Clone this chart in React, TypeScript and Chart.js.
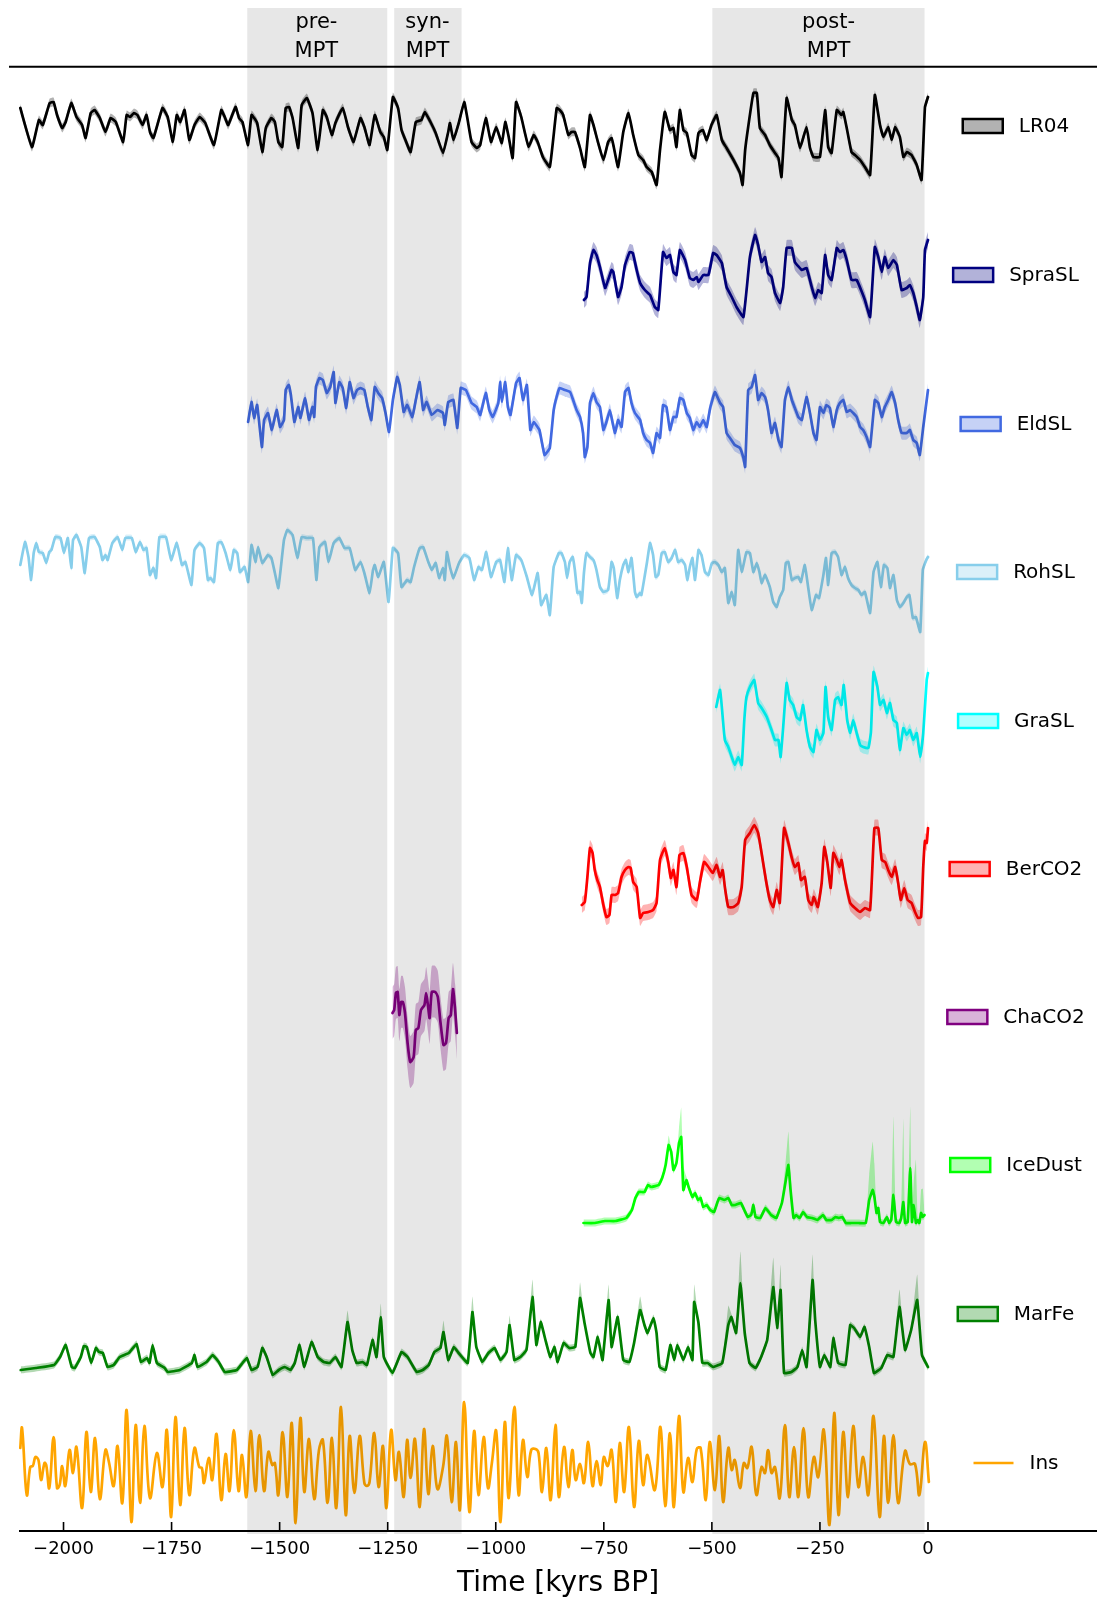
import React, { useEffect, useRef } from "react";
import { Chart, registerables } from "chart.js";

Chart.register(...registerables);

// ---------------- data: [time (kyr), normalized anomaly] ----------------
const LR04: number[][] = [
  [-2100,18],[-2073,-21],[-2057,6],[-2048,1],[-2032,23],[-2023,24],[-2015,11],[-2003,-2],[-1995,4],[-1982,23],
  [-1970,9],[-1957,1],[-1949,-12],[-1937,13],[-1928,16],[-1916,8],[-1903,-6],[-1891,8],[-1879,4],[-1862,-16],
  [-1854,11],[-1846,9],[-1837,13],[-1829,11],[-1817,1],[-1808,11],[-1800,-6],[-1792,-12],[-1771,18],[-1759,9],
  [-1747,-16],[-1738,11],[-1730,4],[-1720,16],[-1709,-14],[-1697,1],[-1685,9],[-1672,3],[-1652,-19],[-1635,16],
  [-1627,9],[-1619,1],[-1602,19],[-1594,8],[-1586,4],[-1573,-19],[-1565,11],[-1552,3],[-1540,-26],[-1532,-2],
  [-1519,8],[-1511,4],[-1503,-16],[-1494,-21],[-1486,18],[-1478,19],[-1470,8],[-1457,-22],[-1449,21],[-1437,28],
  [-1424,13],[-1412,-24],[-1400,16],[-1391,9],[-1379,-9],[-1371,3],[-1354,18],[-1342,-1],[-1329,-16],[-1313,8],
  [-1304,-1],[-1292,-19],[-1280,11],[-1267,-6],[-1259,-11],[-1251,-24],[-1238,29],[-1226,18],[-1218,-4],[-1209,-14],
  [-1197,-26],[-1185,4],[-1172,6],[-1164,14],[-1151,4],[-1139,-7],[-1122,-27],[-1110,-6],[-1106,3],[-1098,-14],
  [-1085,4],[-1073,24],[-1065,6],[-1056,-16],[-1044,-22],[-1036,-19],[-1023,8],[-1011,-16],[-999,-1],[-986,-17],
  [-978,4],[-970,-11],[-961,-32],[-953,24],[-941,9],[-933,-6],[-924,-21],[-912,-9],[-903,-16],[-891,-31],
  [-875,-41],[-859,18],[-852,16],[-844,11],[-832,-9],[-825,-6],[-817,-6],[-805,-22],[-794,-41],[-782,11],
  [-774,1],[-763,-17],[-751,-34],[-740,-16],[-732,-12],[-727,-21],[-717,-41],[-705,-6],[-693,13],[-682,-9],
  [-670,-29],[-659,-34],[-651,-41],[-639,-46],[-628,-59],[-620,-24],[-609,14],[-597,-4],[-589,-2],[-582,-21],
  [-574,16],[-566,-4],[-558,-7],[-547,-29],[-539,-32],[-531,-7],[-521,-4],[-512,-14],[-501,1],[-489,11],
  [-477,-14],[-466,-22],[-450,-34],[-435,-47],[-429,-59],[-423,-24],[-416,-1],[-404,33],[-396,33],[-389,-2],
  [-377,-9],[-366,-19],[-354,-27],[-346,-32],[-339,-51],[-327,28],[-315,6],[-308,1],[-296,-22],[-281,-1],
  [-273,-22],[-265,-31],[-250,-31],[-238,16],[-231,-21],[-223,-27],[-211,16],[-200,11],[-196,14],[-188,-2],
  [-177,-26],[-169,-29],[-157,-34],[-146,-41],[-134,-49],[-123,31],[-111,1],[-103,-11],[-92,-1],[-84,-14],
  [-76,-1],[-65,-11],[-57,-31],[-49,-26],[-38,-29],[-26,-39],[-15,-54],[-7,19],[0,29],
];

const SPRA_SL: number[][] = [
  [-796,-25],[-790,-22],[-782,12],[-774,25],[-767,20],[-759,8],[-747,-13],[-740,-5],[-732,5],[-728,3],
  [-717,-22],[-709,-12],[-701,10],[-690,23],[-683,22],[-674,5],[-666,-8],[-655,-15],[-643,-20],[-632,-32],
  [-624,-35],[-613,23],[-605,17],[-597,20],[-589,3],[-582,0],[-574,25],[-562,15],[-551,-3],[-543,-5],
  [-535,-2],[-531,-7],[-520,0],[-508,0],[-497,22],[-489,20],[-477,12],[-466,-12],[-454,-22],[-443,-32],
  [-427,-42],[-412,18],[-400,40],[-393,30],[-385,13],[-377,18],[-370,2],[-362,-2],[-354,-18],[-342,-28],
  [-335,-12],[-327,27],[-315,27],[-308,13],[-292,5],[-281,7],[-269,-12],[-261,-23],[-254,-15],[-246,-18],
  [-238,20],[-231,0],[-223,-5],[-211,27],[-204,23],[-196,25],[-188,15],[-177,-5],[-165,-5],[-153,-17],
  [-146,-25],[-134,-42],[-123,28],[-115,18],[-107,3],[-100,18],[-92,7],[-80,15],[-72,10],[-61,-15],
  [-49,-13],[-42,-10],[-34,-18],[-26,-32],[-19,-45],[-11,-22],[-7,25],[0,35],
];

const ELD_SL: number[][] = [
  [-1573,2],[-1565,22],[-1559,6],[-1552,19],[-1541,-23],[-1536,4],[-1527,11],[-1518,-6],[-1507,14],[-1499,-3],
  [-1490,4],[-1486,34],[-1479,39],[-1474,29],[-1466,2],[-1457,17],[-1452,6],[-1441,26],[-1432,4],[-1424,17],
  [-1420,7],[-1416,37],[-1408,46],[-1400,44],[-1391,31],[-1383,37],[-1375,52],[-1371,21],[-1362,42],[-1354,36],
  [-1346,16],[-1338,42],[-1329,26],[-1321,34],[-1313,36],[-1304,34],[-1296,17],[-1288,4],[-1280,37],[-1272,31],
  [-1263,26],[-1255,11],[-1247,-8],[-1238,24],[-1228,47],[-1222,39],[-1213,12],[-1205,19],[-1193,7],[-1185,24],
  [-1176,42],[-1168,14],[-1160,22],[-1148,9],[-1135,14],[-1122,11],[-1118,-1],[-1110,22],[-1098,24],[-1089,-4],
  [-1081,36],[-1069,34],[-1056,21],[-1044,17],[-1036,9],[-1023,31],[-1015,14],[-1007,7],[-994,21],[-990,42],
  [-986,22],[-978,42],[-972,17],[-966,9],[-953,41],[-945,46],[-937,24],[-928,39],[-920,-6],[-912,2],
  [-899,-6],[-887,-31],[-875,-24],[-866,14],[-858,29],[-852,36],[-840,34],[-828,32],[-821,24],[-813,14],
  [-805,7],[-798,-9],[-794,-33],[-788,-23],[-782,21],[-774,31],[-767,22],[-759,17],[-751,-6],[-744,2],
  [-736,14],[-730,2],[-724,-9],[-717,4],[-709,-3],[-701,32],[-693,36],[-686,21],[-678,11],[-666,4],
  [-659,-9],[-651,-16],[-643,-19],[-636,-29],[-628,-9],[-620,-14],[-613,19],[-605,17],[-597,-6],[-589,7],
  [-582,7],[-574,26],[-566,24],[-558,11],[-551,6],[-543,-6],[-535,2],[-528,-3],[-520,4],[-512,-3],
  [-504,16],[-493,32],[-481,21],[-474,17],[-466,-9],[-458,-14],[-447,-21],[-435,-24],[-427,-34],[-423,-43],
  [-416,34],[-408,37],[-400,49],[-393,24],[-385,31],[-377,27],[-370,14],[-362,-9],[-354,1],[-346,-16],
  [-339,-23],[-331,24],[-323,37],[-315,24],[-308,16],[-300,7],[-292,4],[-281,27],[-273,11],[-265,-9],
  [-258,-16],[-250,17],[-242,11],[-235,19],[-227,16],[-219,-3],[-211,14],[-204,21],[-196,24],[-188,12],
  [-180,14],[-173,11],[-165,7],[-157,-3],[-150,-6],[-142,-13],[-134,-23],[-123,24],[-115,21],[-107,7],
  [-100,17],[-92,24],[-84,32],[-76,21],[-69,4],[-61,-9],[-49,-9],[-42,-6],[-34,-16],[-26,-19],
  [-19,-31],[-11,-3],[0,34],
];

const ROH_SL: number[][] = [
  [-2100,7],[-2089,30],[-2081,15],[-2075,-8],[-2069,19],[-2063,29],[-2057,20],[-2048,19],[-2040,9],[-2033,20],
  [-2028,22],[-2019,35],[-2007,34],[-1999,19],[-1990,34],[-1982,4],[-1978,32],[-1970,37],[-1959,25],[-1951,-1],
  [-1941,34],[-1928,35],[-1916,25],[-1910,12],[-1903,17],[-1898,12],[-1887,29],[-1875,35],[-1864,22],[-1857,34],
  [-1842,34],[-1833,20],[-1823,30],[-1815,22],[-1808,24],[-1800,-3],[-1792,4],[-1786,-6],[-1778,35],[-1763,35],
  [-1751,12],[-1738,29],[-1726,7],[-1718,10],[-1704,-13],[-1697,22],[-1685,29],[-1675,24],[-1666,-8],[-1660,-6],
  [-1652,-10],[-1643,29],[-1635,30],[-1625,19],[-1614,2],[-1606,22],[-1598,19],[-1592,0],[-1581,5],[-1573,-10],
  [-1565,27],[-1556,10],[-1550,25],[-1540,9],[-1527,17],[-1519,14],[-1511,-1],[-1503,-16],[-1490,32],[-1482,42],
  [-1470,37],[-1459,14],[-1449,35],[-1437,34],[-1423,34],[-1415,-8],[-1408,25],[-1395,30],[-1387,10],[-1375,29],
  [-1362,34],[-1350,24],[-1338,24],[-1325,2],[-1313,10],[-1304,-1],[-1292,-21],[-1284,2],[-1280,7],[-1272,-5],
  [-1259,10],[-1248,-30],[-1238,24],[-1226,19],[-1218,-15],[-1205,-8],[-1197,-10],[-1189,5],[-1176,24],[-1168,25],
  [-1156,10],[-1148,2],[-1139,9],[-1131,-6],[-1122,4],[-1118,-8],[-1113,20],[-1106,5],[-1098,-6],[-1085,9],
  [-1073,17],[-1061,14],[-1050,-8],[-1040,5],[-1032,2],[-1022,20],[-1011,-5],[-999,10],[-990,12],[-980,-10],
  [-972,24],[-963,-8],[-953,17],[-941,12],[-928,-5],[-916,-23],[-903,-1],[-895,-33],[-883,-23],[-875,-43],
  [-866,5],[-854,19],[-848,19],[-840,10],[-835,-6],[-829,10],[-822,15],[-817,2],[-811,-21],[-805,-20],
  [-801,-31],[-796,-1],[-790,19],[-782,15],[-774,12],[-767,2],[-759,-15],[-751,-20],[-740,-18],[-732,10],
  [-727,4],[-719,-26],[-713,-8],[-705,7],[-699,12],[-693,0],[-686,14],[-678,-20],[-674,-25],[-666,-21],
  [-663,-23],[-655,-3],[-650,10],[-643,29],[-636,17],[-630,-5],[-624,-3],[-616,19],[-609,20],[-601,10],
  [-593,14],[-585,22],[-578,10],[-570,12],[-562,7],[-557,-8],[-551,5],[-545,14],[-539,-8],[-531,22],
  [-524,17],[-516,0],[-508,-3],[-500,9],[-493,10],[-485,7],[-477,0],[-470,4],[-462,-31],[-454,-20],
  [-447,-33],[-439,22],[-431,0],[-420,20],[-412,19],[-404,0],[-396,9],[-390,0],[-385,-11],[-377,-3],
  [-366,-15],[-358,-30],[-350,-35],[-343,-25],[-335,-18],[-329,9],[-323,10],[-315,-8],[-308,-6],[-300,-5],
  [-294,-10],[-285,7],[-277,-16],[-269,-38],[-259,-23],[-252,-26],[-242,-3],[-236,14],[-231,-13],[-223,19],
  [-215,20],[-208,15],[-200,-3],[-192,5],[-185,-6],[-177,-13],[-169,-16],[-161,-18],[-154,-23],[-146,-20],
  [-134,-41],[-126,0],[-117,10],[-109,-15],[-102,7],[-94,4],[-88,-16],[-80,-3],[-72,-28],[-65,-35],
  [-57,-31],[-49,-25],[-43,-23],[-35,-46],[-28,-45],[-18,-60],[-12,2],[-4,12],[0,15],
];

const GRA_SL: number[][] = [
  [-490,14],[-481,31],[-475,4],[-470,-19],[-462,-26],[-454,-36],[-447,-44],[-439,-36],[-431,-44],[-425,1],
  [-420,24],[-412,34],[-402,41],[-393,18],[-385,13],[-373,4],[-362,-9],[-354,-19],[-346,-19],[-341,-36],
  [-335,-6],[-327,38],[-320,21],[-312,16],[-304,4],[-296,1],[-289,16],[-281,-9],[-273,-26],[-265,-31],
  [-258,-9],[-250,-19],[-242,-12],[-237,34],[-231,4],[-223,-9],[-215,21],[-208,24],[-200,16],[-195,36],
  [-187,1],[-180,-12],[-173,1],[-165,-12],[-157,-24],[-150,-26],[-138,-27],[-132,-11],[-126,49],[-117,34],
  [-111,16],[-103,21],[-95,8],[-88,18],[-80,1],[-72,-2],[-65,-29],[-57,-7],[-49,-14],[-42,-9],
  [-34,-19],[-26,-12],[-18,-36],[-11,-12],[-3,41],[0,48],
];

const BER_CO2: number[][] = [
  [-801,-36],[-794,-33],[-788,-8],[-782,21],[-776,16],[-771,-1],[-765,-11],[-759,-18],[-751,-36],[-744,-48],
  [-737,-46],[-732,-26],[-724,-26],[-717,-24],[-709,-8],[-701,-1],[-693,2],[-688,1],[-682,-13],[-674,-18],
  [-666,-49],[-659,-44],[-647,-43],[-636,-41],[-628,-34],[-620,9],[-609,21],[-601,7],[-595,-9],[-589,-1],
  [-582,-18],[-575,14],[-566,16],[-558,2],[-547,-26],[-535,-31],[-528,-14],[-518,7],[-508,2],[-498,-4],
  [-489,4],[-481,-8],[-475,-1],[-470,-18],[-462,-38],[-450,-38],[-439,-34],[-431,-18],[-423,29],[-412,36],
  [-402,44],[-393,36],[-385,16],[-375,-11],[-366,-31],[-358,-38],[-350,-21],[-343,-34],[-333,41],[-323,26],
  [-315,11],[-308,2],[-300,6],[-294,-11],[-285,-8],[-277,-31],[-269,-36],[-264,-28],[-255,-38],[-246,-14],
  [-240,22],[-233,7],[-225,-19],[-219,16],[-211,9],[-205,2],[-200,9],[-192,-11],[-180,-34],[-169,-39],
  [-157,-43],[-146,-39],[-134,-41],[-124,41],[-115,41],[-107,9],[-99,7],[-92,-1],[-84,-8],[-76,2],
  [-69,-14],[-63,-31],[-55,-19],[-47,-31],[-38,-34],[-30,-43],[-23,-49],[-16,-48],[-11,2],[-7,28],
  [-3,26],[0,41],
];

const CHA_CO2: number[][] = [
  [-1239,4],[-1235,7],[-1231,24],[-1227,25],[-1223,2],[-1219,15],[-1215,15],[-1210,4],[-1204,-26],[-1198,-45],
  [-1190,-40],[-1185,-13],[-1179,-11],[-1173,7],[-1165,12],[-1161,24],[-1157,12],[-1153,-1],[-1148,25],[-1140,25],
  [-1134,20],[-1128,-5],[-1121,-28],[-1115,-26],[-1109,-1],[-1104,2],[-1099,28],[-1094,7],[-1090,-16],
];

const ICE_DUST: number[][] = [
  [-797,-58],[-772,-58],[-747,-56],[-723,-56],[-698,-53],[-685,-45],[-677,-33],[-669,-27],[-656,-27],[-648,-20],
  [-640,-22],[-623,-20],[-615,-13],[-607,0],[-600,20],[-594,13],[-589,-5],[-582,2],[-576,22],[-571,28],
  [-566,-25],[-559,-15],[-553,-23],[-545,-32],[-539,-28],[-532,-35],[-526,-33],[-520,-42],[-512,-40],[-504,-45],
  [-495,-47],[-487,-37],[-483,-33],[-471,-35],[-462,-33],[-454,-40],[-446,-40],[-433,-38],[-425,-45],[-417,-52],
  [-409,-50],[-404,-40],[-399,-52],[-388,-53],[-376,-43],[-363,-50],[-351,-53],[-338,-38],[-330,-18],[-323,0],
  [-318,-25],[-311,-53],[-305,-50],[-297,-53],[-289,-47],[-280,-52],[-268,-53],[-256,-55],[-243,-50],[-235,-55],
  [-223,-55],[-214,-52],[-206,-53],[-198,-52],[-190,-58],[-177,-58],[-161,-58],[-144,-58],[-136,-35],[-128,-25],
  [-124,-32],[-119,-48],[-115,-43],[-111,-57],[-103,-58],[-95,-52],[-90,-58],[-85,-55],[-80,-30],[-74,-57],
  [-66,-58],[-62,-53],[-57,-37],[-53,-58],[-47,-57],[-41,-3],[-37,-57],[-33,-40],[-28,-58],[-24,-55],
  [-20,-58],[-16,-48],[-12,-52],[-8,-50],
];

// extra upper-side uncertainty at selected times: [time, extra]
const ICE_DUST_UPPER_EXTRA: number[][] = [
  [-600,6],[-576,12],[-571,26],[-566,20],[-323,30],[-330,14],[-318,14],[-136,22],[-128,45],[-124,30],
  [-80,75],[-57,80],[-41,58],[-33,20],[-28,60],[-16,20],[-12,25],
];

const MAR_FE: number[][] = [
  [-2099,-56],[-2064,-54],[-2022,-51],[-2008,-43],[-1995,-31],[-1981,-53],[-1974,-54],[-1960,-43],[-1953,-32],[-1946,-33],
  [-1936,-49],[-1925,-34],[-1918,-38],[-1909,-39],[-1898,-53],[-1884,-51],[-1870,-43],[-1849,-39],[-1831,-30],[-1821,-48],
  [-1807,-44],[-1801,-49],[-1794,-31],[-1784,-49],[-1766,-54],[-1759,-58],[-1731,-56],[-1703,-49],[-1697,-41],[-1690,-53],
  [-1669,-48],[-1655,-41],[-1641,-48],[-1627,-58],[-1599,-56],[-1586,-49],[-1576,-44],[-1565,-56],[-1551,-53],[-1540,-34],
  [-1530,-43],[-1516,-61],[-1502,-56],[-1488,-53],[-1475,-56],[-1465,-49],[-1454,-31],[-1443,-53],[-1426,-28],[-1412,-43],
  [-1398,-48],[-1384,-49],[-1371,-43],[-1357,-53],[-1343,-8],[-1332,-36],[-1322,-49],[-1308,-48],[-1298,-51],[-1285,-26],
  [-1276,-43],[-1266,-3],[-1259,-43],[-1239,-59],[-1218,-38],[-1204,-43],[-1183,-58],[-1169,-56],[-1155,-51],[-1142,-38],
  [-1128,-34],[-1121,-18],[-1110,-46],[-1097,-33],[-1086,-39],[-1065,-49],[-1054,2],[-1045,-33],[-1031,-48],[-1017,-39],
  [-1003,-34],[-989,-46],[-975,-38],[-968,-11],[-957,-46],[-943,-43],[-929,-36],[-915,17],[-906,-31],[-896,-8],
  [-885,-26],[-874,-43],[-864,-33],[-857,-48],[-843,-29],[-830,-34],[-816,-33],[-805,16],[-795,-8],[-781,-39],
  [-774,-43],[-764,-23],[-753,-46],[-739,14],[-732,-33],[-718,-3],[-705,-46],[-691,-48],[-680,-29],[-666,4],
  [-656,-11],[-649,-19],[-635,-4],[-628,-19],[-621,-53],[-607,-56],[-596,-31],[-587,-46],[-580,-31],[-566,-46],
  [-555,-33],[-545,-46],[-541,12],[-531,-9],[-522,-49],[-510,-49],[-497,-53],[-476,-49],[-462,-11],[-455,-3],
  [-444,-19],[-434,31],[-424,-19],[-413,-49],[-399,-54],[-386,-43],[-372,-26],[-358,27],[-349,-14],[-341,24],
  [-333,-59],[-316,-58],[-302,-53],[-291,-36],[-281,-53],[-267,34],[-261,-6],[-250,-53],[-240,-41],[-226,-53],
  [-219,-24],[-208,-49],[-191,-51],[-180,-11],[-171,-14],[-157,-23],[-147,-13],[-136,-33],[-125,-59],[-108,-54],
  [-94,-41],[-80,-43],[-66,7],[-53,-36],[-39,-16],[-25,14],[-14,-41],[0,-53],
];

const MAR_FE_UPPER_EXTRA: number[][] = [
  [-1343,8],[-1266,10],[-1121,8],[-1054,12],[-968,6],[-915,14],[-805,12],[-739,12],[-666,10],[-541,14],
  [-462,16],[-434,28],[-358,26],[-341,22],[-267,22],[-66,14],[-25,22],
];

const INS: number[][] = [
  [-2100,15],[-2096,35],[-2085,-32],[-2077,-4],[-2071,-3],[-2065,6],[-2058,3],[-2052,-17],[-2044,0],[-2040,-2],
  [-2033,-25],[-2023,26],[-2015,-25],[-2009,-22],[-2003,-3],[-1996,-23],[-1986,13],[-1978,-10],[-1970,16],[-1957,-45],
  [-1947,31],[-1937,-29],[-1927,25],[-1916,-36],[-1903,13],[-1895,1],[-1884,-23],[-1875,17],[-1864,-40],[-1854,53],
  [-1843,-59],[-1833,38],[-1823,-40],[-1813,37],[-1800,-35],[-1784,10],[-1771,-24],[-1761,33],[-1751,-54],[-1741,46],
  [-1730,-42],[-1720,35],[-1709,-32],[-1697,15],[-1686,-4],[-1680,-5],[-1675,-20],[-1664,5],[-1656,-17],[-1646,29],
  [-1635,-37],[-1625,9],[-1616,-28],[-1606,33],[-1595,-28],[-1587,8],[-1577,-34],[-1567,32],[-1556,-28],[-1547,28],
  [-1536,-28],[-1526,11],[-1517,-2],[-1511,0],[-1503,-32],[-1493,31],[-1482,-34],[-1472,40],[-1463,-60],[-1452,45],
  [-1443,-29],[-1432,24],[-1420,-36],[-1409,13],[-1400,23],[-1389,-40],[-1379,25],[-1369,-45],[-1358,56],[-1347,-52],
  [-1338,27],[-1327,-30],[-1315,27],[-1304,-20],[-1298,-23],[-1292,-19],[-1281,30],[-1271,-24],[-1261,17],[-1253,-45],
  [-1242,33],[-1232,-17],[-1224,11],[-1213,-34],[-1205,23],[-1197,-15],[-1187,24],[-1176,-44],[-1166,34],[-1156,-31],
  [-1146,17],[-1135,-26],[-1122,-4],[-1113,27],[-1102,-39],[-1092,21],[-1083,-47],[-1073,61],[-1061,-49],[-1050,32],
  [-1040,-32],[-1028,26],[-1018,-25],[-1009,0],[-999,32],[-989,-59],[-979,41],[-970,-35],[-957,56],[-947,-32],
  [-937,23],[-927,-14],[-918,13],[-908,14],[-901,10],[-893,-29],[-883,15],[-873,-37],[-862,38],[-854,-34],
  [-842,16],[-832,-24],[-823,13],[-815,-17],[-805,-1],[-796,-20],[-786,21],[-776,-23],[-767,2],[-757,-22],
  [-750,6],[-741,-3],[-732,13],[-722,-39],[-713,20],[-703,-29],[-692,36],[-680,-44],[-669,22],[-659,-22],
  [-649,8],[-632,-27],[-619,36],[-608,-43],[-597,30],[-588,-44],[-576,47],[-566,-29],[-555,5],[-545,-19],
  [-535,14],[-526,15],[-514,-37],[-505,21],[-493,-27],[-483,27],[-474,-39],[-462,15],[-454,-7],[-447,3],
  [-435,-25],[-426,0],[-418,-5],[-408,16],[-397,-32],[-385,-4],[-377,-10],[-370,13],[-362,-10],[-354,-4],
  [-343,-35],[-331,38],[-321,-34],[-310,16],[-300,-34],[-288,35],[-277,-34],[-264,6],[-254,-14],[-241,33],
  [-228,-62],[-217,50],[-207,-52],[-196,31],[-185,-34],[-173,37],[-161,-24],[-150,6],[-138,-32],[-126,47],
  [-112,-54],[-102,27],[-92,-40],[-80,28],[-69,-40],[-53,12],[-42,-1],[-30,-1],[-20,-32],[-7,21],[2,-19],
];

const SERIES_NAMES = ["LR04", "SpraSL", "EldSL", "RohSL", "GraSL", "BerCO2", "ChaCO2", "IceDust", "MarFe", "Ins"];
const SERIES_DATA = [LR04, SPRA_SL, ELD_SL, ROH_SL, GRA_SL, BER_CO2, CHA_CO2, ICE_DUST, MAR_FE, INS];
const SERIES_UNCERT = [4.5, 8, 6.5, 3, 6.5, 8, 26, 3.5, 3.5, 0];
const SERIES_UPPER_EXTRA: (number[][] | null)[] = [null, null, null, null, null, null, null, ICE_DUST_UPPER_EXTRA, MAR_FE_UPPER_EXTRA, null];

const PERIOD_LABELS = [["pre-", "MPT"], ["syn-", "MPT"], ["post-", "MPT"]];
const PERIOD_START = [-1575, -1235, -499];
const PERIOD_END = [-1251, -1079, -8];
const PERIOD_LABEL_AT = [-1415, -1158, -230];

const TICK_VALUES = [-2000, -1750, -1500, -1250, -1000, -750, -500, -250, 0];

// ---------------- styling / layout ----------------
const W = 1097;
const H = 1598;
const FONT = "'DejaVu Sans', sans-serif";
const X_MIN = -2103;
const X_MAX = 391;
const PLOT_TOP = 67;
const PLOT_BOTTOM = 1531;
const ROW_CENTERS = [126, 275, 424, 572, 721, 869, 1017, 1165, 1314, 1463];
const LINE_COLORS = ["#000000", "#000080", "#4169E1", "#87CEEB", "#00FFFF", "#FF0000", "#800080", "#00FF00", "#008000", "#FFA500"];
const LINE_TENSION = [0.12, 0.12, 0.1, 0.12, 0.12, 0.15, 0.2, 0.1, 0.1, 0.4];
const LEGEND_CENTER_X = 1016;

function rgba(hex: string, a: number) {
  const n = parseInt(hex.slice(1), 16);
  return `rgba(${(n >> 16) & 255},${(n >> 8) & 255},${n & 255},${a})`;
}

function fmtTick(v: number) {
  return v < 0 ? "\u2212" + Math.abs(v) : String(v);
}

const decorPlugin = {
  id: "decor",
  afterDatasetsDraw(chart: any) {
    const { ctx, chartArea, scales } = chart;
    const xs = scales.x;
    ctx.save();
    ctx.fillStyle = "rgba(0,0,0,0.095)";
    for (let i = 0; i < PERIOD_START.length; i++) {
      const a = xs.getPixelForValue(PERIOD_START[i]);
      const b = xs.getPixelForValue(PERIOD_END[i]);
      ctx.fillRect(a, 8, b - a, PLOT_BOTTOM + 3 - 8);
    }
    ctx.strokeStyle = "#000";
    ctx.lineWidth = 2;
    ctx.beginPath();
    ctx.moveTo(9, PLOT_TOP - 0.3);
    ctx.lineTo(W, PLOT_TOP - 0.3);
    ctx.stroke();
    ctx.beginPath();
    ctx.moveTo(chartArea.left, chartArea.bottom);
    ctx.lineTo(chartArea.right, chartArea.bottom);
    ctx.stroke();
    ctx.lineWidth = 1.6;
    ctx.beginPath();
    for (const v of TICK_VALUES) {
      const px = xs.getPixelForValue(v);
      ctx.moveTo(px, chartArea.bottom);
      ctx.lineTo(px, chartArea.bottom - 9);
    }
    ctx.stroke();
    ctx.fillStyle = "#000";
    ctx.font = `21px ${FONT}`;
    ctx.textAlign = "center";
    ctx.textBaseline = "alphabetic";
    for (let i = 0; i < PERIOD_LABELS.length; i++) {
      const px = xs.getPixelForValue(PERIOD_LABEL_AT[i]);
      ctx.fillText(PERIOD_LABELS[i][0], px, 28);
      ctx.fillText(PERIOD_LABELS[i][1], px, 56.5);
    }
    ctx.font = `20px ${FONT}`;
    ctx.textAlign = "left";
    ctx.textBaseline = "middle";
    for (let i = 0; i < SERIES_NAMES.length; i++) {
      const tw = ctx.measureText(SERIES_NAMES[i]).width;
      const total = 40 + 16 + tw;
      const left = LEGEND_CENTER_X - total / 2;
      const cy = ROW_CENTERS[i];
      if (SERIES_UNCERT[i] > 0) {
        ctx.fillStyle = rgba(LINE_COLORS[i], 0.3);
        ctx.fillRect(left, cy - 7, 40, 14);
        ctx.strokeStyle = LINE_COLORS[i];
        ctx.lineWidth = 2.5;
        ctx.strokeRect(left, cy - 7, 40, 14);
      } else {
        ctx.strokeStyle = LINE_COLORS[i];
        ctx.lineWidth = 2.5;
        ctx.beginPath();
        ctx.moveTo(left, cy);
        ctx.lineTo(left + 40, cy);
        ctx.stroke();
      }
      ctx.fillStyle = "#000";
      ctx.fillText(SERIES_NAMES[i], left + 56, cy + 1);
    }
    ctx.restore();
  },
};

export default function App() {
  const canvasRef = useRef<HTMLCanvasElement | null>(null);

  useEffect(() => {
    const canvas = canvasRef.current;
    if (!canvas) return;
    const datasets: any[] = [];
    SERIES_DATA.forEach((series, i) => {
      const base = PLOT_BOTTOM - ROW_CENTERS[i];
      const s = SERIES_UNCERT[i];
      const extraTable = SERIES_UPPER_EXTRA[i];
      const extraAt = (t: number) => {
        if (!extraTable) return 0;
        const hit = extraTable.find((e) => e[0] === t);
        return hit ? hit[1] : 0;
      };
      if (s > 0) {
        datasets.push({
          data: series.map((p) => ({ x: p[0], y: base + p[1] - s })),
          borderColor: "rgba(0,0,0,0)",
          borderWidth: 0,
          pointRadius: 0,
          fill: false,
          tension: LINE_TENSION[i],
          order: 5,
        });
        datasets.push({
          data: series.map((p) => ({ x: p[0], y: base + p[1] + s + extraAt(p[0]) })),
          borderColor: "rgba(0,0,0,0)",
          borderWidth: 0,
          pointRadius: 0,
          backgroundColor: rgba(LINE_COLORS[i], 0.3),
          fill: "-1",
          tension: LINE_TENSION[i],
          order: 5,
        });
      }
      datasets.push({
        label: SERIES_NAMES[i],
        data: series.map((p) => ({ x: p[0], y: base + p[1] })),
        borderColor: LINE_COLORS[i],
        borderWidth: 2.7,
        pointRadius: 0,
        fill: false,
        tension: LINE_TENSION[i],
        borderJoinStyle: "round",
        borderCapStyle: "round",
        order: 0,
      });
    });

    const chart = new Chart(canvas, {
      type: "line",
      data: { datasets },
      options: {
        responsive: false,
        maintainAspectRatio: false,
        devicePixelRatio: 1,
        animation: false,
        events: [],
        layout: { padding: { left: 19, right: 0, top: PLOT_TOP, bottom: 0 } },
        plugins: {
          legend: { display: false },
          tooltip: { enabled: false },
          filler: { drawTime: "beforeDatasetsDraw" },
        },
        elements: { point: { radius: 0 } },
        scales: {
          x: {
            type: "linear",
            min: X_MIN,
            max: X_MAX,
            grid: { display: false, drawTicks: false },
            border: { display: false },
            afterBuildTicks: (scale: any) => {
              scale.ticks = TICK_VALUES.map((v) => ({ value: v }));
            },
            afterFit: (scale: any) => {
              scale.height = H - PLOT_BOTTOM;
            },
            ticks: {
              autoSkip: false,
              maxRotation: 0,
              padding: 8,
              color: "#000",
              font: { family: FONT, size: 18 },
              callback: (v: any) => fmtTick(Number(v)),
            },
            title: {
              display: true,
              text: "Time [kyrs BP]",
              color: "#000",
              font: { family: FONT, size: 28 },
              padding: { top: 0, bottom: -3 },
            },
          },
          y: {
            type: "linear",
            display: false,
            min: 0,
            max: PLOT_BOTTOM - PLOT_TOP,
          },
        },
      },
      plugins: [decorPlugin],
    });
    return () => chart.destroy();
  }, []);

  return (
    <div style={{ position: "absolute", left: 0, top: 0, width: W, height: H, background: "#fff" }}>
      <canvas ref={canvasRef} width={W} height={H} style={{ display: "block", width: W, height: H }} />
    </div>
  );
}
